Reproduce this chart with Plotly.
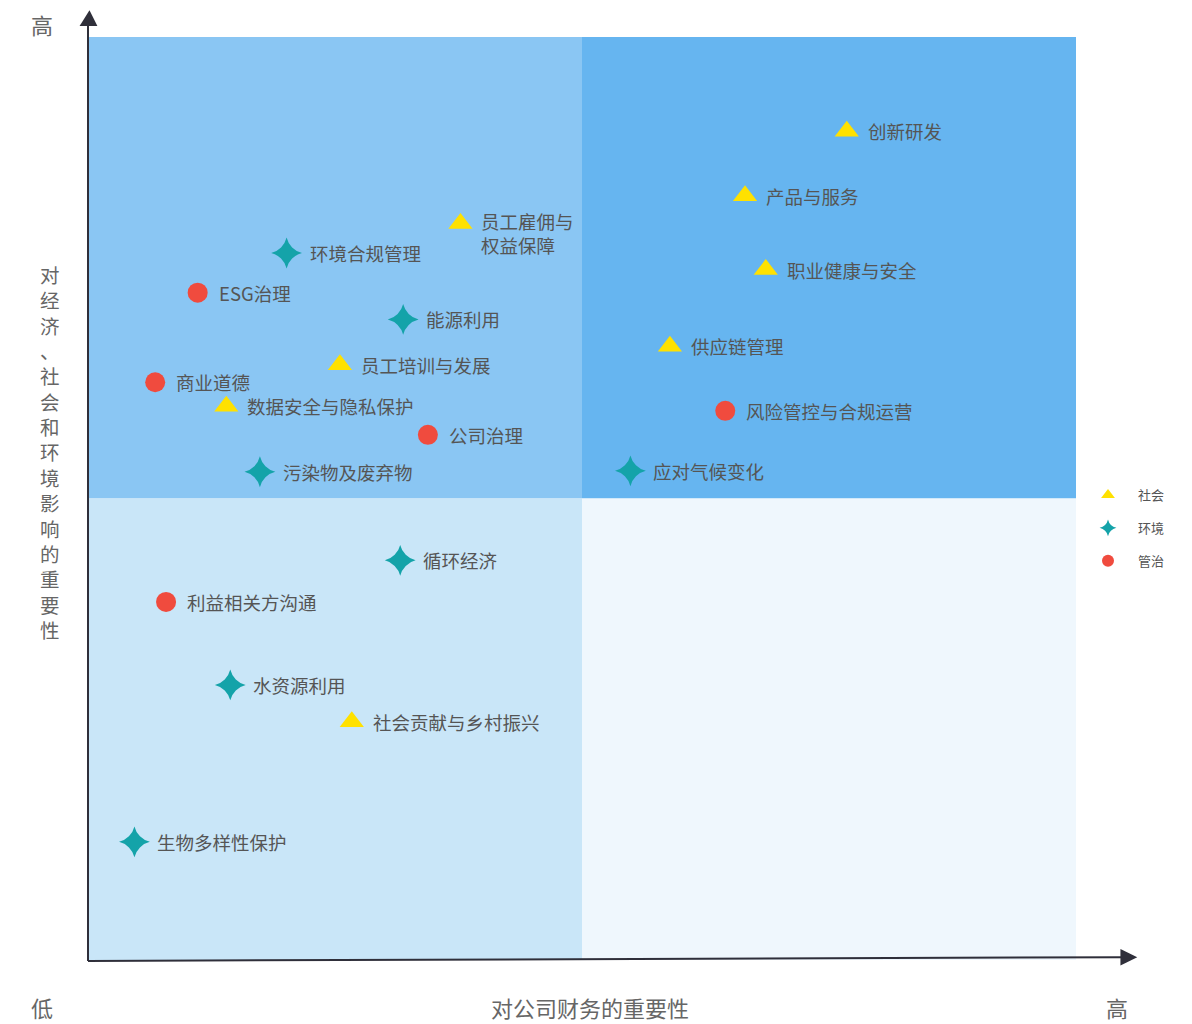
import plotly.graph_objects as go

# ---- data (x: 对公司财务的重要性 0-10, y: 对经济、社会和环境影响的重要性 0-10) ----
social_names = ["创新研发", "产品与服务", "职业健康与安全", "供应链管理",
                "员工雇佣与<br>权益保障", "员工培训与发展", "数据安全与隐私保护", "社会贡献与乡村振兴"]
social_x = [7.68, 6.65, 6.86, 5.89, 3.77, 2.55, 1.40, 2.67]
social_y = [8.98, 8.28, 7.48, 6.65, 7.98, 6.45, 6.00, 2.58]

env_names = ["环境合规管理", "能源利用", "污染物及废弃物", "应对气候变化",
             "循环经济", "水资源利用", "生物多样性保护"]
env_x = [2.01, 3.19, 1.74, 5.49, 3.16, 1.44, 0.47]
env_y = [7.66, 6.94, 5.29, 5.30, 4.33, 2.98, 1.28]

gov_names = ["ESG治理", "商业道德", "公司治理", "风险管控与合规运营", "利益相关方沟通"]
gov_x = [1.11, 0.68, 3.44, 6.45, 0.79]
gov_y = [7.23, 6.26, 5.69, 5.95, 3.88]

series_names = ["社会", "环境", "管治"]
y_title = "对经济、社会和环境影响的重要性"
x_title = "对公司财务的重要性"
low_label = "低"
high_label = "高"

FONT = "Noto Sans CJK SC, Noto Sans, sans-serif"
LABEL_COLOR = "#555555"
TITLE_COLOR = "#666666"
AXIS_COLOR = "#2f2f3a"

# page body has an 8px margin -> figure is 8px smaller on each axis
W, H = 1184, 1016
X0PX, XUNIT = 80, 98.8     # pixel of x=0 and pixels per unit
Y0PX, YUNIT = 952, 92.3    # pixel of y=0 and pixels per unit


def px(xp):
    return (xp - 8) / W


def py(yp):
    return 1 - (yp - 8) / H


fig = go.Figure()

# quadrant backgrounds
quads = [
    (0, 5, 5, 10, "#8AC6F3"),
    (5, 10, 5, 10, "#66B5F0"),
    (0, 5, 0, 5, "#C9E6F8"),
    (5, 10, 0, 5, "#EFF7FD"),
]
for x0, x1, y0, y1, c in quads:
    fig.add_shape(type="rect", x0=x0, x1=x1, y0=y0, y1=y1, xref="x", yref="y",
                  fillcolor=c, line_width=0, layer="below")

series = [
    (social_names, social_x, social_y, series_names[0], "triangle-up", 21, "#FFE100", 19),
    (env_names, env_x, env_y, series_names[1], "star-diamond", 22, "#14A3A9", 21),
    (gov_names, gov_x, gov_y, series_names[2], "circle", 20, "#F04B3E", 19),
]
for names, xs, ys, nm, sym, sz, col, gap in series:
    fig.add_trace(go.Scatter(
        x=xs, y=ys, text=names, mode="markers", name=nm, legendgroup=nm,
        marker=dict(symbol=sym, size=sz, color=col, line_width=0),
        hoverinfo="text"))
    for t, xv, yv in zip(names, xs, ys):
        multi = "<br>" in t
        fig.add_annotation(x=xv, y=yv, xref="x", yref="y", text=t, showarrow=False,
                           xanchor="left", yanchor="middle", align="left",
                           xshift=gap, yshift=-10 if multi else 0,
                           font=dict(size=18.5, color=LABEL_COLOR, family=FONT))

# axes lines with arrowheads
fig.add_shape(type="line", x0=0, y0=-0.01, x1=10.48, y1=0.03, xref="x", yref="y",
              line=dict(color=AXIS_COLOR, width=2))
fig.add_shape(type="path", path="M 10.45,0.12 L 10.62,0.03 L 10.45,-0.06 Z", xref="x", yref="y",
              fillcolor=AXIS_COLOR, line_width=0)
fig.add_shape(type="line", x0=0, y0=-0.01, x1=0, y1=10.15, xref="x", yref="y",
              line=dict(color=AXIS_COLOR, width=2))
fig.add_shape(type="path", path="M -0.085,10.12 L 0.015,10.29 L 0.095,10.12 Z", xref="x", yref="y",
              fillcolor=AXIS_COLOR, line_width=0)

tfont = dict(size=22, color=TITLE_COLOR, family=FONT)
fig.add_annotation(x=px(42), y=py(24), text=high_label, showarrow=False, xref="paper", yref="paper",
                   xanchor="center", yanchor="middle", font=tfont)
fig.add_annotation(x=px(42), y=py(1007), text=low_label, showarrow=False, xref="paper", yref="paper",
                   xanchor="center", yanchor="middle", font=tfont)
fig.add_annotation(x=px(1117), y=py(1007), text=high_label, showarrow=False, xref="paper", yref="paper",
                   xanchor="center", yanchor="middle", font=tfont)
fig.add_annotation(x=px(590), y=py(1007), text=x_title, showarrow=False, xref="paper", yref="paper",
                   xanchor="center", yanchor="middle", font=tfont)
# vertical y-axis title
fig.add_annotation(x=px(50), y=py(452), xref="paper", yref="paper",
                   text="<br>".join(list(y_title)), showarrow=False,
                   xanchor="center", yanchor="middle", align="center",
                   font=dict(size=19.5, color=TITLE_COLOR, family=FONT))

fig.update_xaxes(range=[-X0PX / XUNIT, (W - X0PX) / XUNIT], visible=False, fixedrange=True)
fig.update_yaxes(range=[-(H - Y0PX) / YUNIT, Y0PX / YUNIT], visible=False, fixedrange=True)

fig.update_layout(
    width=W, height=H,
    margin=dict(l=0, r=0, t=0, b=0),
    plot_bgcolor="white", paper_bgcolor="white",
    font=dict(family=FONT),
    showlegend=True,
    legend=dict(x=px(1078), y=py(480), xanchor="left", yanchor="top",
                font=dict(size=13, color=LABEL_COLOR, family=FONT),
                tracegroupgap=13, itemwidth=50, itemsizing="constant",
                bgcolor="rgba(0,0,0,0)"),
)

fig.write_html("out.html")
